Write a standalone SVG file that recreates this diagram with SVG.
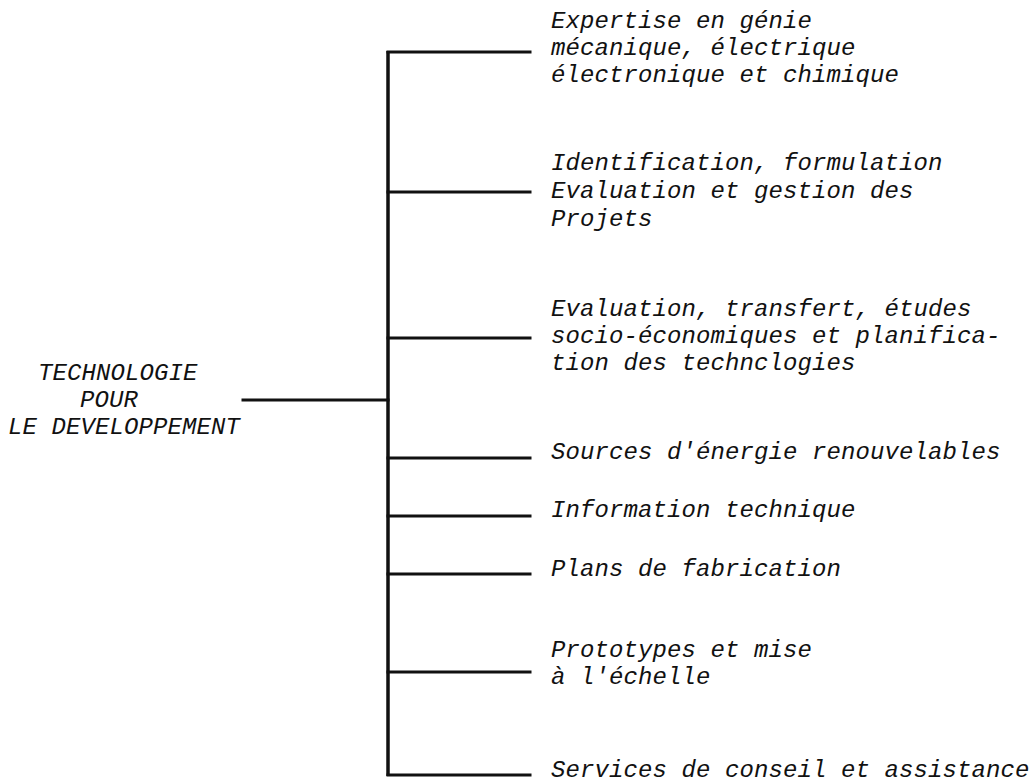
<svg xmlns="http://www.w3.org/2000/svg" width="1033" height="784" viewBox="0 0 1033 784">
<style>
.t{font-family:"Liberation Mono","Courier New",monospace;font-style:italic;font-size:24px;letter-spacing:0.1px;fill:#111}
.ln{stroke:#111;stroke-width:3;fill:none;stroke-linecap:square}
.trunk{stroke:#111;stroke-width:3.5;fill:none}
</style>
<rect width="1033" height="784" fill="#fff"/>
<g id="connectors">
<line class="trunk" x1="388" y1="51" x2="388" y2="776"/>
<line class="ln" x1="243" y1="400" x2="388" y2="400"/>
<line class="ln" x1="388" y1="52" x2="530" y2="52"/>
<line class="ln" x1="388" y1="192" x2="530" y2="192"/>
<line class="ln" x1="388" y1="338" x2="530" y2="338"/>
<line class="ln" x1="388" y1="458" x2="530" y2="458"/>
<line class="ln" x1="388" y1="516" x2="530" y2="516"/>
<line class="ln" x1="388" y1="574" x2="530" y2="574"/>
<line class="ln" x1="388" y1="672" x2="530" y2="672"/>
<line class="ln" x1="388" y1="775" x2="530" y2="775"/>
</g>
<g id="root">
<text class="t" x="38" y="380">TECHNOLOGIE</text>
<text class="t" x="80" y="407">POUR</text>
<text class="t" x="8" y="434">LE DEVELOPPEMENT</text>
</g>
<g id="n1"><text class="t" x="551" y="28">Expertise en génie</text><text class="t" x="551" y="55">mécanique, électrique</text><text class="t" x="551" y="82">électronique et chimique</text></g>
<g id="n2"><text class="t" x="551" y="170">Identification, formulation</text><text class="t" x="551" y="198">Evaluation et gestion des</text><text class="t" x="551" y="226">Projets</text></g>
<g id="n3"><text class="t" x="551" y="316">Evaluation, transfert, études</text><text class="t" x="551" y="343">socio-économiques et planifica-</text><text class="t" x="551" y="370">tion des technclogies</text></g>
<g id="n4"><text class="t" x="551" y="459">Sources d'énergie renouvelables</text></g>
<g id="n5"><text class="t" x="551" y="517">Information technique</text></g>
<g id="n6"><text class="t" x="551" y="576">Plans de fabrication</text></g>
<g id="n7"><text class="t" x="551" y="657">Prototypes et mise</text><text class="t" x="551" y="684">à l'échelle</text></g>
<g id="n8"><text class="t" x="551" y="777">Services de conseil et assistance</text></g>
</svg>
